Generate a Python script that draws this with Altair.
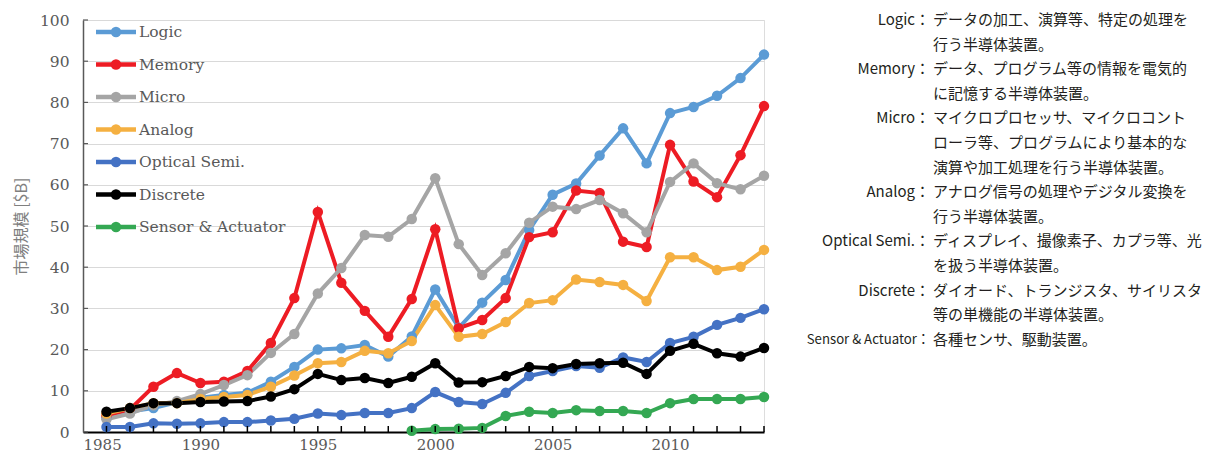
import altair as alt
import pandas as pd

years = list(range(1986, 2015))
series = ["Logic", "Memory", "Micro", "Analog", "Optical Semi.", "Discrete", "Sensor & Actuator"]
colors = ["#5B9BD5", "#ED1C24", "#A5A5A5", "#F5B041", "#4472C4", "#000000", "#34A853"]

logic = [3.5, 5.0, 5.8, 7.2, 8.3, 9.0, 9.5, 12.2, 15.8, 20.0, 20.3, 21.1, 18.3, 23.2, 34.6,
         25.3, 31.4, 36.9, 49.0, 57.6, 60.3, 67.1, 73.7, 65.2, 77.4, 78.9, 81.6, 85.9, 91.6]
memory = [4.0, 5.5, 11.0, 14.3, 11.9, 12.2, 14.8, 21.6, 32.5, 53.4, 36.2, 29.4, 23.1, 32.3, 49.2,
          25.2, 27.2, 32.5, 47.3, 48.5, 58.6, 58.0, 46.2, 44.9, 69.7, 60.8, 57.0, 67.2, 79.1]
micro = [3.1, 4.5, 6.5, 7.5, 9.2, 11.4, 13.8, 19.2, 23.8, 33.6, 39.8, 47.8, 47.4, 51.7, 61.6,
         45.6, 38.1, 43.4, 50.8, 54.7, 54.1, 56.3, 53.1, 48.5, 60.7, 65.2, 60.4, 58.9, 62.2]
analog = [4.5, 5.8, 7.0, 7.0, 8.0, 8.5, 9.0, 11.0, 13.7, 16.7, 17.0, 19.7, 19.1, 22.1, 30.8,
          23.1, 23.8, 26.7, 31.3, 32.0, 37.0, 36.4, 35.7, 31.8, 42.4, 42.4, 39.3, 40.1, 44.2]
optical = [1.2, 1.2, 2.1, 2.0, 2.1, 2.4, 2.4, 2.8, 3.2, 4.5, 4.1, 4.6, 4.6, 5.8, 9.7,
           7.3, 6.8, 9.5, 13.6, 14.8, 16.0, 15.6, 18.1, 17.0, 21.6, 23.1, 26.0, 27.7, 29.8]
discrete = [4.9, 5.8, 7.0, 7.0, 7.3, 7.4, 7.5, 8.6, 10.4, 14.1, 12.6, 13.1, 11.9, 13.4, 16.7,
            12.0, 12.1, 13.6, 15.8, 15.5, 16.5, 16.7, 16.8, 14.1, 19.7, 21.4, 19.1, 18.3, 20.4]
sensor_years = list(range(1999, 2015))
sensor = [0.3, 0.7, 0.8, 1.0, 3.9, 4.9, 4.6, 5.3, 5.1, 5.1, 4.6, 7.0, 8.0, 8.0, 8.0, 8.5]

x_label_values = [1985, 1990, 1995, 2000, 2005, 2010]
y_values = list(range(0, 101, 10))

note_labels = ["Logic：", "", "Memory：", "", "Micro：", "", "", "Analog：", "",
               "Optical Semi.：", "", "Discrete：", "", "Sensor & Actuator："]
note_texts = [
    "データの加工、演算等、特定の処理を",
    "行う半導体装置。",
    "データ、プログラム等の情報を電気的",
    "に記憶する半導体装置。",
    "マイクロプロセッサ、マイクロコント",
    "ローラ等、プログラムにより基本的な",
    "演算や加工処理を行う半導体装置。",
    "アナログ信号の処理やデジタル変換を",
    "行う半導体装置。",
    "ディスプレイ、撮像素子、カプラ等、光",
    "を扱う半導体装置。",
    "ダイオード、トランジスタ、サイリスタ",
    "等の単機能の半導体装置。",
    "各種センサ、駆動装置。",
]

rows = []
for name, vals in zip(series[:6], [logic, memory, micro, analog, optical, discrete]):
    for yr, v in zip(years, vals):
        rows.append({"series": name, "year": yr, "value": v})
for yr, v in zip(sensor_years, sensor):
    rows.append({"series": series[6], "year": yr, "value": v})
df = pd.DataFrame(rows)

notes = pd.DataFrame({
    "i": list(range(len(note_texts))),
    "label": note_labels,
    "text": note_texts,
    "fs": [13.2 if l.startswith("Sensor") else 15 for l in note_labels],
})
legend_df = pd.DataFrame({"series": series, "k": list(range(len(series)))})

W, H = 681, 412
SERIF = "DejaVu Serif, Liberation Serif, serif"

x_enc = alt.X(
    "year:Q",
    scale=alt.Scale(domain=[1985, 2014], nice=False, zero=False),
    axis=alt.Axis(values=x_label_values, format="d", ticks=False, grid=False,
                  labelFont=SERIF, labelFontSize=15, labelColor="#595959",
                  labelPadding=5, domainColor="#000000", domainWidth=2, title=None),
)
y_enc = alt.Y(
    "value:Q",
    scale=alt.Scale(domain=[0, 100], nice=False, zero=True),
    axis=alt.Axis(values=y_values, ticks=False, grid=True, gridColor="#D9D9D9", gridWidth=1.2,
                  labelFont=SERIF, labelFontSize=15.5, labelColor="#595959",
                  labelPadding=14, domainColor="#595959", domainWidth=1.5,
                  title="市場規模 [$B]", titleFont="Noto Sans CJK JP", titleFontSize=16,
                  titleFontWeight="normal", titleColor="#7F7F7F", titleAngle=270,
                  titleX=-62, titleY=H / 2, titleAlign="center", titleBaseline="middle"),
)
color_enc = alt.Color("series:N", scale=alt.Scale(domain=series, range=colors), legend=None)

lines = alt.Chart(df).mark_line(strokeWidth=4).encode(x=x_enc, y=y_enc, color=color_enc)
points = alt.Chart(df).mark_point(filled=True, size=110, opacity=1).encode(
    x=x_enc, y=y_enc, color=color_enc)

xticks = alt.Chart(pd.DataFrame({"year": years})).mark_rule(color="#000000", strokeWidth=1.5).encode(
    x=x_enc, y=alt.value(H), y2=alt.value(H - 6))
yticks = alt.Chart(pd.DataFrame({"value": y_values})).mark_rule(color="#595959", strokeWidth=1.2).encode(
    y=y_enc, x=alt.value(0), x2=alt.value(5))

# legend (inside the plot, top-left)
leg_base = alt.Chart(legend_df).transform_calculate(ly="datum.k * 32.5 + 12")
leg_y = alt.Y("ly:Q", scale=None, axis=None)
leg_lines = leg_base.mark_rule(strokeWidth=4.5).encode(
    x=alt.value(13), x2=alt.value(53), y=leg_y, color=color_enc)
leg_pts = leg_base.mark_point(filled=True, size=110, opacity=1).encode(
    x=alt.value(33), y=leg_y, color=color_enc)
leg_text = leg_base.mark_text(align="left", baseline="middle", font=SERIF, fontSize=15.5,
                              color="#595959").encode(x=alt.value(56), y=leg_y, text="series:N")

label_text = alt.Chart(notes).transform_calculate(py="datum.i * 24.6").mark_text(
    align="right", baseline="middle", font="Noto Sans CJK JP", color="#231F20"
).encode(
    x=alt.value(847),
    y=alt.Y("py:Q", scale=None, axis=None),
    text="label:N",
    size=alt.Size("fs:Q", scale=None, legend=None),
)
desc_text = alt.Chart(notes).transform_calculate(py="datum.i * 24.6").mark_text(
    align="left", baseline="middle", font="Noto Sans CJK JP", fontSize=15, color="#231F20"
).encode(
    x=alt.value(850),
    y=alt.Y("py:Q", scale=None, axis=None),
    text="text:N",
)

chart = alt.layer(lines, points, xticks, yticks, leg_lines, leg_pts, leg_text,
                  label_text, desc_text).properties(
    width=W, height=H,
    autosize=alt.AutoSizeParams(type="none"),
    padding={"left": 75, "top": 12, "right": 442, "bottom": 22},
).configure_view(stroke=None).configure(background="white")

chart.save("out.html", embed_options={"renderer": "svg", "actions": False})
